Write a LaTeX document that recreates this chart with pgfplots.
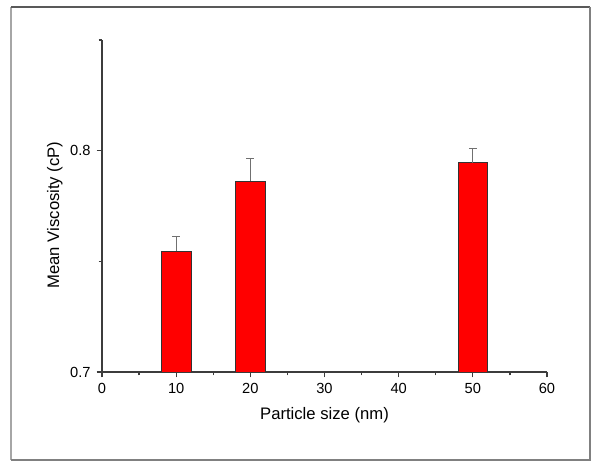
\documentclass[border=0pt]{standalone}
\usepackage{fontspec}
\setmainfont{Liberation Sans}
\usepackage{pgfplots}
\pgfplotsset{compat=1.18}
\definecolor{barRed}{HTML}{FF0000}
\definecolor{axisGrey}{HTML}{3C3C3C}
\definecolor{errGrey}{HTML}{707070}

\begin{document}
\begin{tikzpicture}[x=1pt,y=1pt]
% page size and outer frame (600x470 px at 0.75pt/px)
\path (0,0) rectangle (450,352.5);
\draw[color=black!35,line width=1.4pt] (8.25,7.5) -- (8.25,347.25);
\draw[color=black!65,line width=1.4pt] (8.25,347.25) -- (442.5,347.25);
\draw[color=black!50,line width=1.4pt] (442.5,347.25) -- (442.5,7.5) -- (8.25,7.5);
\begin{axis}[
  scale only axis,
  width=333.75pt, height=249pt,
  at={(76.5pt,73.5pt)}, anchor=south west,
  axis lines=left,
  axis line style={-,axisGrey,line width=1.1pt},
  xmin=0, xmax=60, ymin=0.7, ymax=0.85,
  xtick={0,10,...,60},
  minor xtick={5,15,...,55},
  ytick={0.7,0.8},
  minor ytick={0.75,0.85},
  tick align=outside,
  major tick length=4pt, minor tick length=2.5pt,
  tick style={axisGrey,line width=0.9pt},
  /pgf/number format/assume math mode=true,
  ticklabel style={font=\fontsize{11}{13}\selectfont},
  xticklabel style={yshift=-1pt},
  yticklabel style={xshift=-1pt,/pgf/number format/fixed,/pgf/number format/precision=1,/pgf/number format/fixed zerofill},
  xlabel={Particle size (nm)},
  ylabel={Mean Viscosity (cP)},
  label style={font=\fontsize{12.5}{14}\selectfont},
  xlabel style={at={(axis description cs:0.5,-0.1416)},anchor=base},
  ylabel style={at={(axis description cs:-0.0966,0.473)},anchor=base,rotate=0},
]
\addplot[ybar, bar width=4, fill=barRed, draw=black!80, line width=0.6pt,
  error bars/.cd, y dir=plus, y explicit,
  error bar style={errGrey,line width=0.7pt},
  error mark options={errGrey,line width=0.7pt,rotate=90,mark size=3pt}]
  coordinates {
  (10,0.7546) +- (0,0.0068)
  (20,0.7862) +- (0,0.0103)
  (50,0.7945) +- (0,0.0067)
};
\end{axis}
\end{tikzpicture}
\end{document}
